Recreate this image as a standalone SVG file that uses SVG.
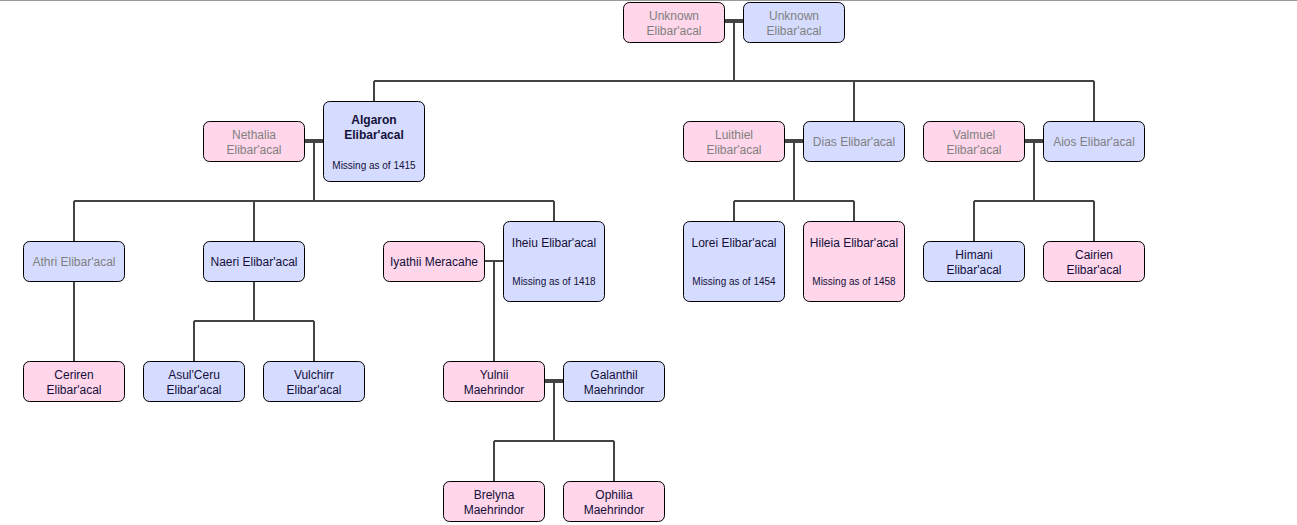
<svg xmlns="http://www.w3.org/2000/svg" width="1297" height="525" viewBox="0 0 1297 525">
<style>
.f{fill:#ffd6ea;stroke:#000;stroke-width:1}
.m{fill:#d6dcff;stroke:#000;stroke-width:1}
text{font-family:"Liberation Sans",Arial,sans-serif;font-size:12px;text-anchor:middle}
.d{fill:#808080}
.a{fill:#14103a}
.s{font-size:10px;fill:#14103a}
.b{font-weight:bold}
.l{fill:none;stroke:#444;stroke-width:2}
.c{fill:none;stroke:#444;stroke-width:4}
</style>
<rect width="1297" height="525" fill="#fff"/>
<line x1="0" y1="0.5" x2="1297" y2="0.5" stroke="#999" stroke-width="1"/>
<g id="connectors">
<path class="c" d="M724 21H743"/>
<path class="l" d="M734 21V81M374 81H1094M374 81V101M854 81V121M1094 81V121"/>
<path class="c" d="M304 141H323"/>
<path class="l" d="M314 141V201M74 201H554M74 201V241M254 201V241M554 201V221"/>
<path class="l" d="M484 261H503M494 261V361"/>
<path class="l" d="M74 281V361"/>
<path class="l" d="M254 281V321M194 321H314M194 321V361M314 321V361"/>
<path class="c" d="M544 381H563"/>
<path class="l" d="M554 381V441M494 441H614M494 441V481M614 441V481"/>
<path class="c" d="M784 141H803"/>
<path class="l" d="M794 141V201M734 201H854M734 201V221M854 201V221"/>
<path class="c" d="M1024 141H1043"/>
<path class="l" d="M1034 141V201M974 201H1094M974 201V241M1094 201V241"/>
</g>
<g id="unknown-f"><rect class="f" x="623.5" y="2.5" width="101" height="40" rx="6"/><text class="d" x="674" y="20">Unknown</text><text class="d" x="674" y="35">Elibar'acal</text></g>
<g id="unknown-m"><rect class="m" x="743.5" y="2.5" width="101" height="40" rx="6"/><text class="d" x="794" y="20">Unknown</text><text class="d" x="794" y="35">Elibar'acal</text></g>
<g id="nethalia"><rect class="f" x="203.5" y="121.5" width="101" height="40" rx="6"/><text class="d" x="254" y="139">Nethalia</text><text class="d" x="254" y="154">Elibar'acal</text></g>
<g id="algaron"><rect class="m" x="323.5" y="101.5" width="101" height="80" rx="6"/><text class="a b" x="374" y="124">Algaron</text><text class="a b" x="374" y="139">Elibar'acal</text><text class="s" x="374" y="169">Missing as of 1415</text></g>
<g id="luithiel"><rect class="f" x="683.5" y="121.5" width="101" height="40" rx="6"/><text class="d" x="734" y="139">Luithiel</text><text class="d" x="734" y="154">Elibar'acal</text></g>
<g id="dias"><rect class="m" x="803.5" y="121.5" width="101" height="40" rx="6"/><text class="d" x="854" y="146">Dias Elibar'acal</text></g>
<g id="valmuel"><rect class="f" x="923.5" y="121.5" width="101" height="40" rx="6"/><text class="d" x="974" y="139">Valmuel</text><text class="d" x="974" y="154">Elibar'acal</text></g>
<g id="aios"><rect class="m" x="1043.5" y="121.5" width="101" height="40" rx="6"/><text class="d" x="1094" y="146">Aios Elibar'acal</text></g>
<g id="athri"><rect class="m" x="23.5" y="241.5" width="101" height="40" rx="6"/><text class="d" x="74" y="266">Athri Elibar'acal</text></g>
<g id="naeri"><rect class="m" x="203.5" y="241.5" width="101" height="40" rx="6"/><text class="a" x="254" y="266">Naeri Elibar'acal</text></g>
<g id="iyathii"><rect class="f" x="383.5" y="241.5" width="101" height="40" rx="6"/><text class="a" x="434" y="266">Iyathii Meracahe</text></g>
<g id="iheiu"><rect class="m" x="503.5" y="221.5" width="101" height="80" rx="6"/><text class="a" x="554" y="247">Iheiu Elibar'acal</text><text class="s" x="554" y="285">Missing as of 1418</text></g>
<g id="lorei"><rect class="m" x="683.5" y="221.5" width="101" height="80" rx="6"/><text class="a" x="734" y="247">Lorei Elibar'acal</text><text class="s" x="734" y="285">Missing as of 1454</text></g>
<g id="hileia"><rect class="f" x="803.5" y="221.5" width="101" height="80" rx="6"/><text class="a" x="854" y="247">Hileia Elibar'acal</text><text class="s" x="854" y="285">Missing as of 1458</text></g>
<g id="himani"><rect class="m" x="923.5" y="241.5" width="101" height="40" rx="6"/><text class="a" x="974" y="259">Himani</text><text class="a" x="974" y="274">Elibar'acal</text></g>
<g id="cairien"><rect class="f" x="1043.5" y="241.5" width="101" height="40" rx="6"/><text class="a" x="1094" y="259">Cairien</text><text class="a" x="1094" y="274">Elibar'acal</text></g>
<g id="ceriren"><rect class="f" x="23.5" y="361.5" width="101" height="40" rx="6"/><text class="a" x="74" y="379">Ceriren</text><text class="a" x="74" y="394">Elibar'acal</text></g>
<g id="asulceru"><rect class="m" x="143.5" y="361.5" width="101" height="40" rx="6"/><text class="a" x="194" y="379">Asul'Ceru</text><text class="a" x="194" y="394">Elibar'acal</text></g>
<g id="vulchirr"><rect class="m" x="263.5" y="361.5" width="101" height="40" rx="6"/><text class="a" x="314" y="379">Vulchirr</text><text class="a" x="314" y="394">Elibar'acal</text></g>
<g id="yulnii"><rect class="f" x="443.5" y="361.5" width="101" height="40" rx="6"/><text class="a" x="494" y="379">Yulnii</text><text class="a" x="494" y="394">Maehrindor</text></g>
<g id="galanthil"><rect class="m" x="563.5" y="361.5" width="101" height="40" rx="6"/><text class="a" x="614" y="379">Galanthil</text><text class="a" x="614" y="394">Maehrindor</text></g>
<g id="brelyna"><rect class="f" x="443.5" y="481.5" width="101" height="40" rx="6"/><text class="a" x="494" y="499">Brelyna</text><text class="a" x="494" y="514">Maehrindor</text></g>
<g id="ophilia"><rect class="f" x="563.5" y="481.5" width="101" height="40" rx="6"/><text class="a" x="614" y="499">Ophilia</text><text class="a" x="614" y="514">Maehrindor</text></g>
</svg>
